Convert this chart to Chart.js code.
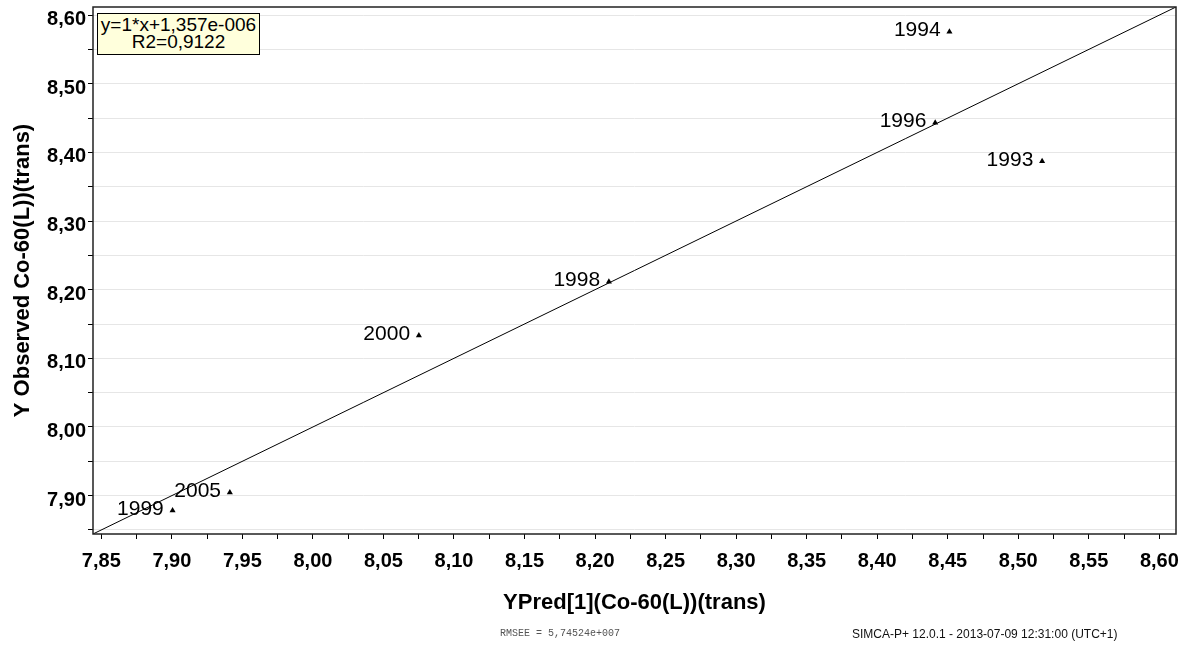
<!DOCTYPE html>
<html>
<head>
<meta charset="utf-8">
<script src="https://cdn.jsdelivr.net/npm/chart.js@4/dist/chart.umd.min.js"></script>
<style>
  body { margin: 0; background: #fff; }
  #wrap { position: relative; width: 1190px; height: 652px; }
  #fitbox {
    position: absolute; left: 97px; top: 13px; width: 163px; height: 42px;
    box-sizing: border-box; border: 1.5px solid #000; background: #ffffdc;
    font: 19px "Liberation Sans", Arial, sans-serif; line-height: 16.7px;
    text-align: center; padding-top: 3px; color: #000; white-space: nowrap;
  }
  #rmsee {
    position: absolute; left: 500px; top: 628px;
    font: 10px "Liberation Mono", "Courier New", monospace; color: #555;
  }
  #stamp {
    position: absolute; left: 852px; top: 627px;
    font: 12px "Liberation Sans", Arial, sans-serif; color: #111;
  }
</style>
</head>
<body>
<div id="wrap">
  <canvas id="chart" width="1190" height="652"></canvas>
  <div id="fitbox">y=1*x+1,357e-006<br>R2=0,9122</div>
  <div id="rmsee">RMSEE = 5,74524e+007</div>
  <div id="stamp">SIMCA-P+ 12.0.1 - 2013-07-09 12:31:00 (UTC+1)</div>
</div>
<script>
// observations: predicted vs observed (trans)
const years = ['1994', '1996', '1993', '1998', '2000', '2005', '1999'];
const yPred = [8.4512, 8.4411, 8.5169, 8.2098, 8.0751, 7.9411, 7.9005];
const yObs  = [8.5758, 8.4431, 8.3870, 8.2114, 8.1331, 7.9047, 7.8784];

// regression line y = a*x + b
const fitSlope = 1;
const fitIntercept = 1.357e-6;

// both axes share the same range
const axisMin = 7.8441;
const axisMax = 8.6118;

const xTickValues = [7.85, 7.90, 7.95, 8.00, 8.05, 8.10, 8.15, 8.20, 8.25, 8.30, 8.35, 8.40, 8.45, 8.50, 8.55, 8.60];
const xTickLabels = ['7,85', '7,90', '7,95', '8,00', '8,05', '8,10', '8,15', '8,20', '8,25', '8,30', '8,35', '8,40', '8,45', '8,50', '8,55', '8,60'];
const yTickValues = [7.90, 8.00, 8.10, 8.20, 8.30, 8.40, 8.50, 8.60];
const yTickLabels = ['7,90', '8,00', '8,10', '8,20', '8,30', '8,40', '8,50', '8,60'];

const FONT = '"Liberation Sans", Arial, sans-serif';
Chart.defaults.font.family = FONT;
Chart.defaults.color = '#000';

// labelled ticks plus the unlabelled ones halfway between them
function withMinor(values, extra) {
  const out = values.slice();
  for (let i = 0; i < values.length - 1; i++) out.push((values[i] + values[i + 1]) / 2);
  return out.concat(extra).sort((a, b) => a - b);
}

function labelFor(values, labels) {
  return function (v) {
    const i = values.findIndex(t => Math.abs(t - v) < 1e-6);
    return i < 0 ? '' : labels[i];
  };
}

const frame = {
  id: 'frame',
  afterDraw(chart) {
    const { ctx, chartArea: a } = chart;
    ctx.save();
    ctx.strokeStyle = '#222';
    ctx.lineWidth = 1.5;
    ctx.strokeRect(a.left, a.top, a.right - a.left, a.bottom - a.top);
    ctx.restore();
  }
};

const pointNames = {
  id: 'pointNames',
  afterDatasetsDraw(chart) {
    const { ctx } = chart;
    const meta = chart.getDatasetMeta(1);
    ctx.save();
    ctx.font = '21px ' + FONT;
    ctx.fillStyle = '#000';
    ctx.textAlign = 'right';
    ctx.textBaseline = 'middle';
    meta.data.forEach((el, i) => {
      ctx.fillText(years[i], el.x - 8.8, el.y - 1.5);
    });
    ctx.restore();
  }
};

const fitLine = [axisMin, axisMax].map(x => ({ x: x, y: fitSlope * x + fitIntercept }));

new Chart(document.getElementById('chart'), {
  type: 'scatter',
  data: {
    datasets: [
      {
        type: 'line',
        data: fitLine,
        borderColor: '#000',
        borderWidth: 1,
        pointRadius: 0,
        fill: false
      },
      {
        data: yPred.map((x, i) => ({ x: x, y: yObs[i] })),
        pointStyle: 'triangle',
        pointRadius: 3.5,
        backgroundColor: '#000',
        borderWidth: 0
      }
    ]
  },
  options: {
    responsive: false,
    animation: false,
    layout: { padding: { top: 7, right: 14, left: 0, bottom: 0 } },
    plugins: { legend: { display: false }, tooltip: { enabled: false } },
    scales: {
      x: {
        type: 'linear',
        min: axisMin,
        max: axisMax,
        afterFit(s) { s.height = 118; s.paddingLeft = 0; s.paddingRight = 0; },
        afterBuildTicks(s) { s.ticks = withMinor(xTickValues, []).map(v => ({ value: v })); },
        border: { display: false },
        grid: { drawOnChartArea: false, tickLength: 5, tickColor: '#000', tickWidth: 1 },
        ticks: {
          callback: labelFor(xTickValues, xTickLabels),
          autoSkip: false, maxRotation: 0, padding: 10,
          font: { size: 20, weight: 'bold' }, color: '#000'
        },
        title: {
          display: true, text: 'YPred[1](Co-60(L))(trans)',
          font: { size: 22, weight: 'bold' }, color: '#000',
          padding: { top: 0, bottom: 36 }
        }
      },
      y: {
        type: 'linear',
        min: axisMin,
        max: axisMax,
        afterFit(s) { s.width = 93; s.paddingTop = 0; s.paddingBottom = 0; },
        afterBuildTicks(s) { s.ticks = withMinor(yTickValues, [7.85]).map(v => ({ value: v })); },
        border: { display: false },
        grid: { color: '#e6e6e6', lineWidth: 1, tickLength: 5, tickColor: '#000', tickWidth: 1 },
        ticks: {
          callback: labelFor(yTickValues, yTickLabels),
          autoSkip: false, padding: 2, labelOffset: 4.5,
          font: { size: 20, weight: 'bold' }, color: '#000'
        },
        title: {
          display: true, text: 'Y Observed Co-60(L))(trans)',
          font: { size: 22, weight: 'bold' }, color: '#000',
          padding: { top: 10, bottom: 0 }
        }
      }
    }
  },
  plugins: [frame, pointNames]
});
</script>
</body>
</html>
